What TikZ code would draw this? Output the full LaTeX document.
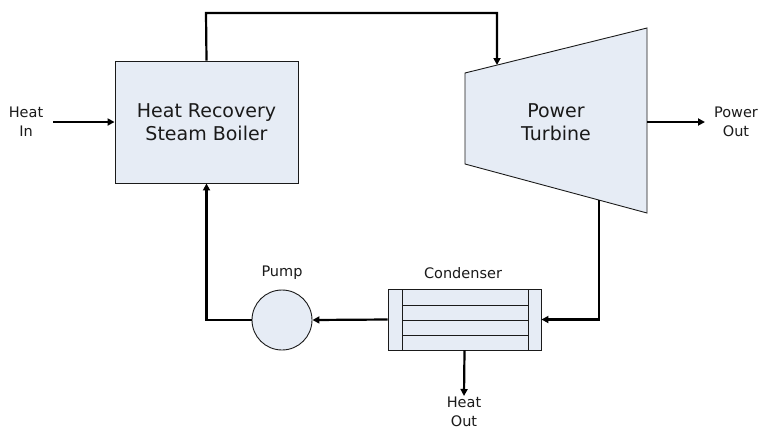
\documentclass[tikz,border=0pt]{standalone}
\usepackage{fontspec}
\setmainfont{DejaVu Sans}
\usetikzlibrary{arrows.meta,calc}
\definecolor{boxfill}{HTML}{E6ECF5}
\definecolor{ink}{HTML}{1A1A1A}
\tikzset{
  flow/.style={draw=black,line width=2.2pt,-{Triangle[length=7pt,width=7pt]}},
  unit/.style={draw=ink,line width=0.9pt,fill=boxfill},
  bigtxt/.style={font=\fontsize{19}{23}\selectfont,text=ink,align=center},
  smalltxt/.style={font=\fontsize{14.5}{19}\selectfont,text=ink,align=center}
}
\begin{document}
\begin{tikzpicture}[x=1pt,y=-1pt]
\useasboundingbox (0,0) rectangle (759,432);
% boiler
\node[unit,minimum width=183pt,minimum height=122pt,inner sep=0pt] (boiler) at (206.5,122) {};
\node[bigtxt] (boilertxt) at (206.5,122) {Heat Recovery\\Steam Boiler};
% turbine
\coordinate (tTL) at (465,73);
\coordinate (tTR) at (647,28);
\coordinate (tBR) at (647,213);
\coordinate (tBL) at (465,164);
\draw[unit] (tTL) -- (tTR) -- (tBR) -- (tBL) -- cycle;
\node[bigtxt] (turbine) at (556,122) {Power\\Turbine};
\coordinate (tin) at (497,65);
\coordinate (tout) at (599,200);
\coordinate (tshaft) at (647,122);
% condenser
\node[unit,minimum width=153pt,minimum height=61pt,inner sep=0pt] (cond) at (464.5,319.5) {};
\draw[ink,line width=0.9pt] (402,289) -- (402,350) (528,289) -- (528,350)
  (402,305) -- (528,305) (402,320) -- (528,320) (402,335) -- (528,335);
\node[smalltxt] (condtxt) at (463,273) {Condenser};
% pump
\node[unit,circle,minimum size=60pt,inner sep=0pt] (pump) at (282,320) {};
\node[smalltxt] (pumptxt) at (282,273) {Pump};
% labels
\node[smalltxt] (heatin) at (26,122) {Heat\\In};
\node[smalltxt] (powerout) at (736,122) {Power\\Out};
\node[smalltxt,inner sep=1pt] (heatout) at (464,412) {Heat\\Out};
% connectors
\coordinate (hinstart) at (53,122);
\draw[flow] (hinstart) -- (boiler.west);
\draw[flow] (boiler.north) -- (206,13) -| (tin);
\coordinate (poend) at (705,122);
\draw[flow] (tshaft) -- (poend);
\draw[flow] (tout) |- (cond.east);
\draw[flow] (cond.west) -- (pump.east);
\draw[flow] (pump.west) -| (boiler.south);
\coordinate (hoend) at (464,396);
\draw[flow] (cond.south) -- (hoend);
\end{tikzpicture}
\end{document}
